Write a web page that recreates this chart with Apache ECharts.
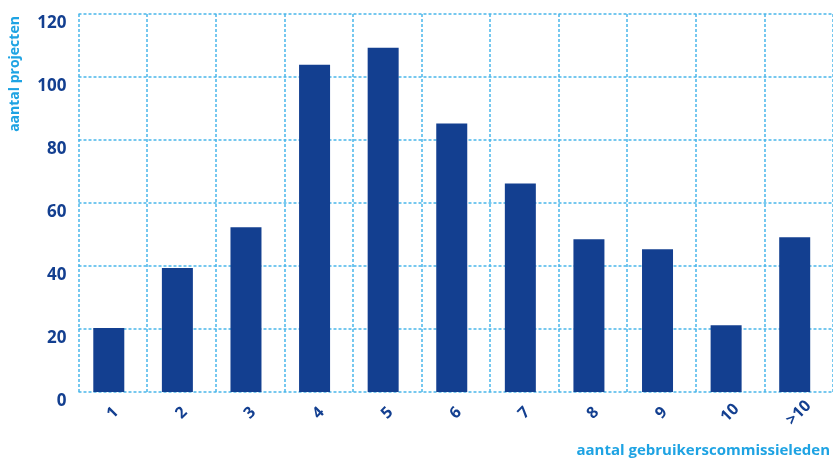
<!DOCTYPE html>
<html>
<head>
<meta charset="utf-8">
<script src="https://cdn.jsdelivr.net/npm/echarts@6/dist/echarts.min.js"></script>
<style>
    html, body { margin: 0; padding: 0; background: #fff; }
    #chart-container { width: 833px; height: 461px; }
</style>
</head>
<body>
<div id="chart-container"></div>
<script>
    // aantal gebruikerscommissieleden
    var categories = ['1', '2', '3', '4', '5', '6', '7', '8', '9', '10', '>10'];
    // aantal projecten
    var projecten = [20.3, 39.4, 52.3, 103.9, 109.3, 85.2, 66.2, 48.5, 45.3, 21.2, 49.1];
    var yMin = 0, yMax = 120, yStep = 20;

    var donker = '#133f90';
    var licht = '#1ea3e3';
    var rasterKleur = '#4ab7ea';

    var paintChart = function () {
        var myChart = echarts.init(document.getElementById('chart-container'));
        var option = {
            animation: false,
            grid: { left: 78.5, top: 14, width: 756, bottom: 69, containLabel: false },
            xAxis: {
                type: 'category',
                data: categories,
                axisLine: { show: false },
                axisTick: { show: false },
                axisLabel: {
                    rotate: 45,
                    margin: 21,
                    align: 'center',
                    verticalAlign: 'middle',
                    color: donker,
                    fontFamily: 'Open Sans',
                    fontWeight: 'bold',
                    fontSize: 16
                },
                splitLine: {
                    show: true,
                    interval: 0,
                    lineStyle: { color: rasterKleur, width: 1.5, type: [3, 2] }
                }
            },
            yAxis: {
                type: 'value',
                min: yMin,
                max: yMax,
                interval: yStep,
                axisLine: { show: false },
                axisTick: { show: false },
                axisLabel: {
                    margin: 12,
                    verticalAlign: 'top',
                    padding: [1, 0, 0, 0],
                    color: donker,
                    fontFamily: 'Open Sans',
                    fontWeight: 'bold',
                    fontSize: 17
                },
                splitLine: {
                    lineStyle: { color: rasterKleur, width: 1.5, type: [3, 2] }
                }
            },
            series: [{
                name: 'projecten',
                type: 'bar',
                data: projecten,
                barWidth: 31,
                barGap: 0,
                itemStyle: { color: donker }
            }, {
                // lege reeks: schuift de balken iets naar links
                name: 'leeg',
                type: 'bar',
                data: categories.map(function () { return 0; }),
                barWidth: 8,
                itemStyle: { color: 'rgba(0,0,0,0)' },
                silent: true
            }],
            graphic: [{
                type: 'text',
                x: 15,
                y: 74,
                rotation: Math.PI / 2,
                style: {
                    text: 'aantal projecten',
                    fill: licht,
                    font: 'bold 14px "Open Sans"',
                    align: 'center',
                    verticalAlign: 'middle'
                }
            }, {
                type: 'text',
                right: 3,
                top: 443,
                style: {
                    text: 'aantal gebruikerscommissieleden',
                    fill: licht,
                    font: 'bold 15px "Open Sans"'
                }
            }]
        };
        myChart.setOption(option);
    };

    paintChart();
</script>
</body>
</html>
